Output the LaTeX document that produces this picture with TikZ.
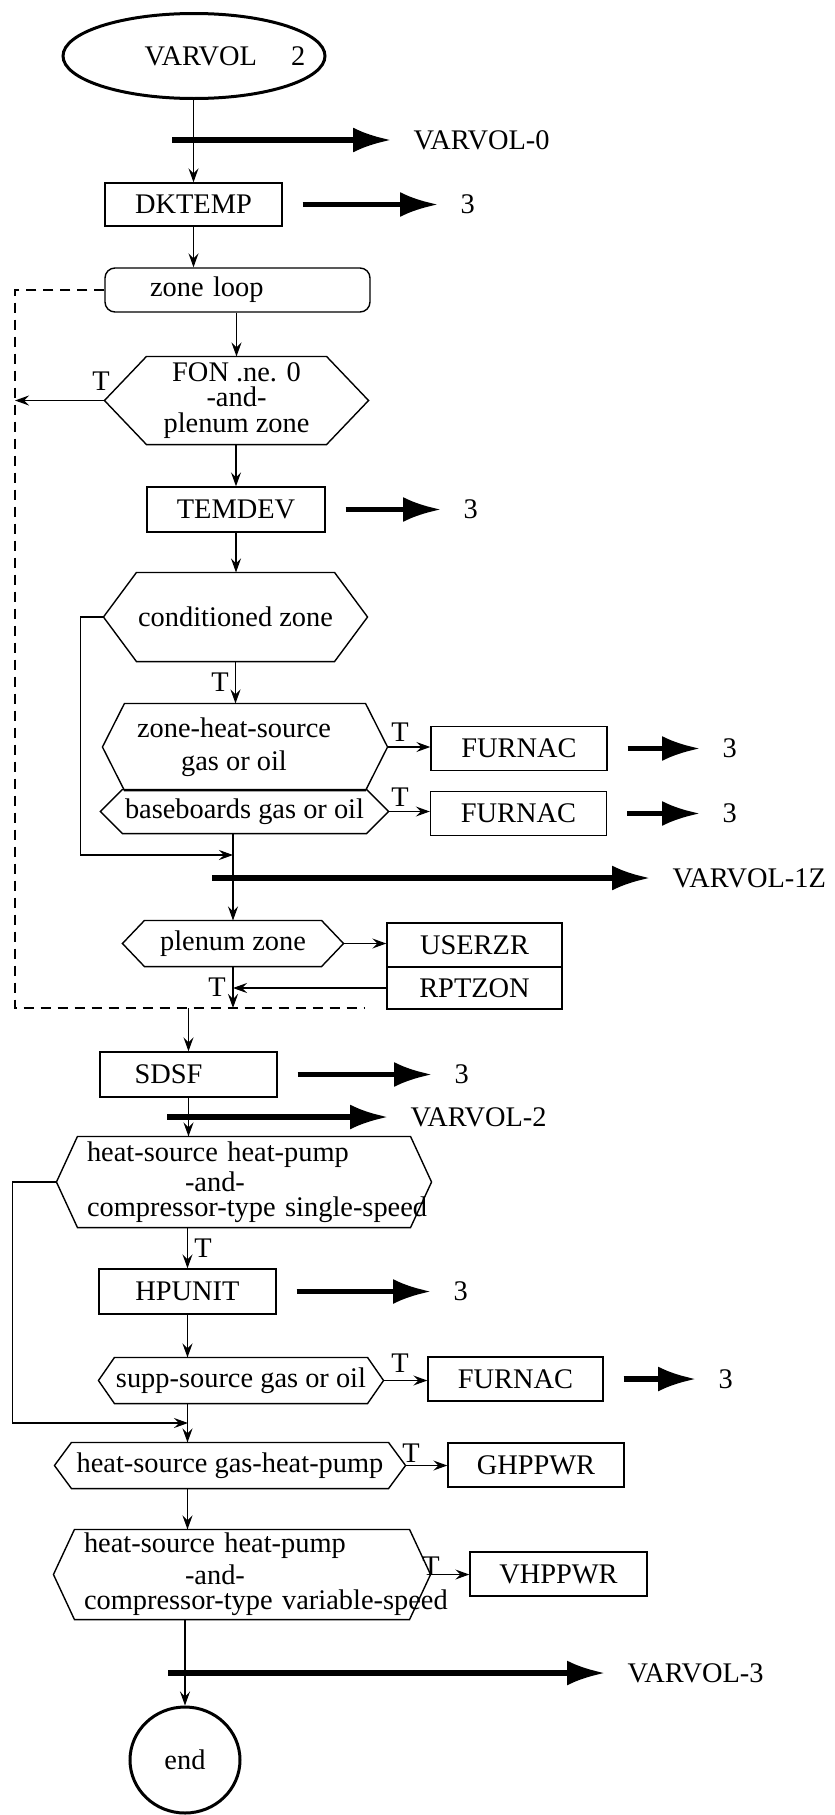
\documentclass[tikz,border=0pt]{standalone}
\usepackage{fontspec}
\setmainfont{Liberation Serif}
\usetikzlibrary{arrows.meta,calc,shapes.geometric}

\begin{document}
\lineskiplimit=-50pt
\begin{tikzpicture}[x=0.5pt,y=-0.5pt,>={Stealth[length=7pt,width=5pt,inset=2.5pt]},line width=0.55pt,font=\fontsize{14.2}{11.6}\selectfont]
\tikzstyle{sub}=[draw,line width=0.7pt,minimum width=88pt,minimum height=22pt,inner sep=0pt]
\tikzstyle{dec}=[inner sep=0pt,align=center]
\tikzstyle{term}=[draw,ellipse,line width=1.5pt,inner sep=0pt]
\tikzstyle{lab}=[inner sep=0pt,anchor=west]
\tikzstyle{tlab}=[inner sep=0pt]
\tikzstyle{call}=[line width=2.6pt,-{Latex[length=19pt,width=12.5pt]},shorten >=11pt]
\useasboundingbox (0,0) rectangle (835,1815);

% main column
\node[term,minimum width=131pt,minimum height=42.5pt] (start) at (194,56) {\makebox[0pt]{\hspace{31pt}VARVOL\hspace{17pt}2}};
\node[sub,minimum width=88.5pt,minimum height=21.5pt] (dk) at (193.5,204.5) {DKTEMP};
\node[draw,rounded corners=5pt,line width=0.7pt,minimum height=22pt,text width=87.5pt,inner xsep=22.5pt,inner ysep=0pt,align=left] (loop) at (237.5,290) {zone loop};
\node[dec,minimum width=131.5pt,minimum height=43.5pt] (fon) at (236.5,400.5) {FON .ne. 0\\[1pt]-and-\\[1pt]plenum zone};
\node[sub,minimum width=89pt,minimum height=22.5pt] (tem) at (236,509.5) {TEMDEV};
\node[dec,minimum width=131.5pt,minimum height=44pt] (cond) at (235.5,617) {conditioned zone};
\node[dec,minimum width=142pt,minimum height=43pt] (zh) at (245,747) {\makebox[0pt]{zone-heat-source\hspace{11pt}}\\[4.9pt]\makebox[0pt]{gas or oil\hspace{11pt}}};
\node[dec,minimum width=143.5pt,minimum height=21.5pt] (bb) at (244.5,811.5) {baseboards gas or oil};
\node[sub] (fu1) at (519,748.5) {FURNAC};
\node[sub] (fu2) at (518.5,813.5) {FURNAC};
\node[dec,minimum width=110pt,minimum height=22.5pt] (plen) at (233,943.5) {plenum zone};
\node[sub,minimum width=87.5pt] (us) at (474.5,945) {USERZR};
\node[sub,minimum width=87.5pt,minimum height=21pt] (rp) at (474.5,988) {RPTZON};
\node[sub,minimum width=88.5pt,minimum height=22.5pt] (sdsf) at (188.5,1074.5) {\makebox[0pt]{SDSF\hspace{20pt}}};
\node[dec,align=left,text width=157pt,inner xsep=15pt,minimum height=45pt] (hs1) at (244,1182) {heat-source heat-pump\\[1.4pt]\hspace*{49pt}-and-\\[0.9pt]\mbox{compressor-type single-speed}};
\node[sub,minimum width=88.5pt,minimum height=22.5pt] (hp) at (187.5,1291.5) {HPUNIT};
\node[dec,minimum width=142pt,minimum height=22.5pt] (supp) at (241,1380.5) {supp-source gas or oil};
\node[sub,minimum width=87.5pt] (fu3) at (515.5,1379) {FURNAC};
\node[dec,minimum width=175pt,minimum height=22.5pt] (ghp) at (230,1465.5) {heat-source gas-heat-pump};
\node[sub] (ghpwr) at (536,1465) {GHPPWR};
\node[dec,align=left,text width=158pt,inner xsep=15pt,minimum height=44.5pt] (hs2) at (242,1574.5) {heat-source heat-pump\\[1.9pt]\hspace*{50.5pt}-and-\\[1pt]\mbox{compressor-type variable-speed}};
\node[sub,minimum width=88.5pt] (vh) at (558.5,1574) {VHPPWR};
\node[term,minimum width=55pt,minimum height=53pt] (end) at (185,1760) {end};

% decision outlines
\foreach \n/\d in {fon/42,cond/33,zh/22,bb/22,plen/22,hs1/21,supp/16,ghp/17,hs2/21}
  \draw[line width=0.7pt] (\n.west) -- ($(\n.north west)+(\d,0)$) -- ($(\n.north east)+(-\d,0)$) -- (\n.east) -- ($(\n.south east)+(-\d,0)$) -- ($(\n.south west)+(\d,0)$) -- cycle;

% calls
\foreach \n/\x in {dk/460,tem/463,fu1/722,fu2/722,sdsf/454,hp/453,fu3/718} {
  \node[lab] (\n3) at (\n.east -| \x,0) {3};
  \draw[call,shorten <=10pt] (\n.east) -- (\n3.west);
}
\node[lab] (v0) at (413,140) {VARVOL-0};
\node[lab] (v1) at (672,878) {VARVOL-1Z};
\node[lab] (v2) at (410,1117) {VARVOL-2};
\node[lab] (v3) at (627,1673) {VARVOL-3};
\coordinate (s0) at (172,140);
\coordinate (s1) at (212,878);
\coordinate (s2) at (167,1117);
\coordinate (s3) at (168,1673);
\foreach \i in {0,...,3} \draw[call] (s\i) -- (v\i.west);

% T labels
\foreach \n/\x/\y in {tfon/101/381,tcond/220/682,tzh/400/732,tbb/400/797,tplen/217/987,ths1/203/1248,tsupp/400/1363,tghp/411/1453,ths2/431/1566}
  \node[tlab] (\n) at (\x,\y) {T};

\coordinate (d2) at (15,1008);
\coordinate (d3) at (365,1008);
\coordinate (j1) at (233,855);
\coordinate (j2) at (188,1423);

% flow
\draw[->] (dk.north |- start.south) -- (dk.north);
\draw[->] (dk.south) -- (dk.south |- loop.north);
\draw[->] (fon.north |- loop.south) -- (fon.north);
\draw[->] (fon.west) -- (fon.west -| d2);
\draw[->] (tem.north |- fon.south) -- (tem.north);
\draw[->] (tem.south) -- (tem.south |- cond.north);
\draw[->] (cond.south) -- (cond.south |- zh.north);
\draw[->] (zh.east) -- (zh.east -| fu1.west);
\draw[->] (bb.east) -- (bb.east -| fu2.west);
\draw[->] (cond.west) -- ++(-23,0) |- (j1);
\draw[->] (plen.north |- bb.south) -- (plen.north);
\draw[->] (plen.east) -- (plen.east -| us.west);
\draw[->] (rp.west) -- (rp.west -| plen.south);
\draw[->] (plen.south) -- (plen.south |- d2);
\draw[dash pattern=on 5pt off 3.5pt] (loop.west) -- (loop.west -| d2) -- (d2) -- (d3);
\draw[->] (sdsf.north |- d2) -- (sdsf.north);
\draw[->] (sdsf.south) -- (sdsf.south |- hs1.north);
\draw[->] (hp.north |- hs1.south) -- (hp.north);
\draw[->] (hs1.west) -- ++(-44,0) |- (j2);
\draw[->] (hp.south) -- (hp.south |- supp.north);
\draw[->] (supp.east) -- (supp.east -| fu3.west);
\draw[->] (hp.south |- supp.south) -- (hp.south |- ghp.north);
\draw[->] (ghp.east) -- (ghp.east -| ghpwr.west);
\draw[->] (hp.south |- ghp.south) -- (hp.south |- hs2.north);
\draw[->] (hs2.east) -- (hs2.east -| vh.west);
\draw[->] (end.north |- hs2.south) -- (end.north);
\end{tikzpicture}
\end{document}
